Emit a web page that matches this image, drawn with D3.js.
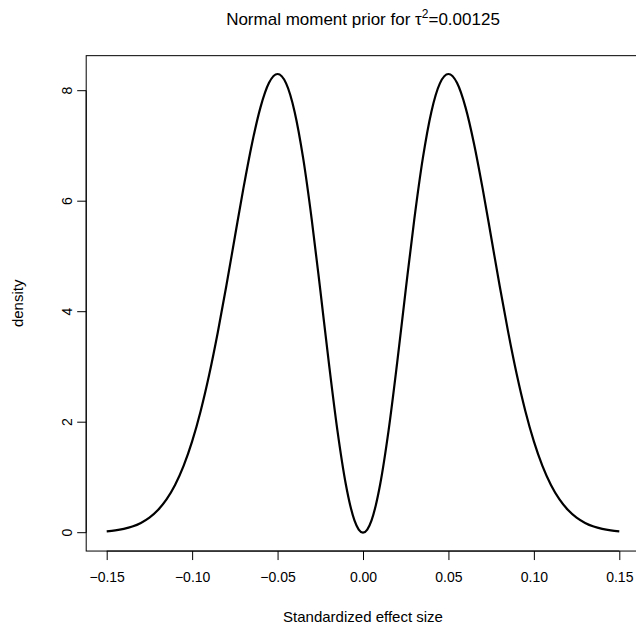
<!DOCTYPE html>
<html>
<head>
<meta charset="utf-8">
<script src="https://cdn.jsdelivr.net/npm/d3@7"></script>
<style>
	body { margin: 0; background: #fff; }
	svg text { font-family: 'Liberation Sans', Arial, Helvetica, sans-serif; fill: #000; }
</style>
</head>
<body>
<div id="chart"></div>
<script>
(() => {
	// effect size grid and density (symmetric about 0)
	const effectSize = [
		-0.150, -0.145, -0.140, -0.135, -0.130, -0.125, -0.120, -0.115, -0.110, -0.105,
		-0.100, -0.095, -0.090, -0.085, -0.080, -0.075, -0.070, -0.065, -0.060, -0.055,
		-0.050, -0.045, -0.040, -0.035, -0.030, -0.025, -0.020, -0.015, -0.010, -0.0075,
		-0.005, -0.0025, 0.000, 0.0025, 0.005,
		0.0075, 0.010, 0.015, 0.020, 0.025, 0.030, 0.035, 0.040, 0.045, 0.050,
		0.055, 0.060, 0.065, 0.070, 0.075, 0.080, 0.085, 0.090, 0.095, 0.100,
		0.105, 0.110, 0.115, 0.120, 0.125, 0.130, 0.135, 0.140, 0.145, 0.150,
	];
	const density = [
		0.025, 0.042, 0.070, 0.112, 0.177, 0.272, 0.410, 0.602, 0.864, 1.210,
		1.653, 2.204, 2.863, 3.625, 4.466, 5.352, 6.232, 7.037, 7.699, 8.143,
		8.302, 8.133, 7.616, 6.774, 5.668, 4.394, 3.077, 1.856, 0.867, 0.497,
		0.223, 0.056, 0.000, 0.056, 0.223,
		0.497, 0.867, 1.856, 3.077, 4.394, 5.668, 6.774, 7.616, 8.133, 8.302,
		8.143, 7.699, 7.037, 6.232, 5.352, 4.466, 3.625, 2.863, 2.204, 1.653,
		1.210, 0.864, 0.602, 0.410, 0.272, 0.177, 0.112, 0.070, 0.042, 0.025,
	];
	const xTicks = [-0.15, -0.10, -0.05, 0.00, 0.05, 0.10, 0.15];
	const yTicks = [0, 2, 4, 6, 8];

	const width = 636;
	const height = 630;

	const svg = d3.select('#chart').append('svg')
		.attr('width', width)
		.attr('height', height)
		.style('background', '#fff');

	// R style: data range padded by 4% on each side
	const x = d3.scaleLinear()
		.domain([-0.15, 0.15])
		.range([106.7, 619.3]);
	const y = d3.scaleLinear()
		.domain([0, 8])
		.range([532.7, 90.7]);

	const xPad = 0.04 * 0.30;
	const yMax = d3.max(density);
	const yPad = 0.04 * yMax;
	const left = x(-0.15 - xPad);
	const right = x(0.15 + xPad);
	const top = y(yMax + yPad);
	const bottom = y(-yPad);

	// the curve
	const line = d3.line()
		.x((d, i) => x(effectSize[i]))
		.y(d => y(d))
		.curve(d3.curveMonotoneX);

	svg.append('path')
		.datum(density)
		.attr('d', line)
		.style('fill', 'none')
		.style('stroke', '#000')
		.style('stroke-width', 2.2)
		.style('stroke-linejoin', 'round');

	// box
	svg.append('rect')
		.attr('x', left)
		.attr('y', top)
		.attr('width', right - left)
		.attr('height', bottom - top)
		.style('fill', 'none')
		.style('stroke', '#000')
		.style('stroke-width', 1);

	// x axis
	const xAxis = d3.axisBottom(x)
		.tickValues(xTicks)
		.tickSize(9)
		.tickPadding(12)
		.tickFormat(d3.format('.2f'));
	const xAxisG = svg.append('g')
		.attr('transform', `translate(0, ${bottom})`)
		.call(xAxis);
	xAxisG.select('.domain')
		.attr('d', `M${x(-0.15)},0H${x(0.15)}`)
		.style('stroke', '#000');
	xAxisG.selectAll('.tick line').style('stroke', '#000');
	xAxisG.selectAll('.tick text')
		.style('font-size', '14px')
		.style('font-family', "'Liberation Sans', Arial, sans-serif")
		.style('fill', '#000');

	// y axis, labels rotated like R's las = 0
	const yAxisG = svg.append('g')
		.attr('transform', `translate(${left}, 0)`);
	yAxisG.append('path')
		.attr('d', `M0,${y(0)}V${y(8)}`)
		.style('stroke', '#000')
		.style('fill', 'none');
	const yTick = yAxisG.selectAll('.ytick')
		.data(yTicks)
		.enter()
		.append('g')
		.attr('class', 'ytick')
		.attr('transform', d => `translate(0, ${y(d)})`);
	yTick.append('line')
		.attr('x1', 0)
		.attr('x2', -9)
		.style('stroke', '#000');
	yTick.append('text')
		.attr('transform', 'translate(-14, 0) rotate(-90)')
		.style('text-anchor', 'middle')
		.style('font-size', '14px')
		.text(d => d);

	// labels
	svg.append('text')
		.attr('x', (left + right) / 2)
		.attr('y', 25)
		.style('text-anchor', 'middle')
		.style('font-size', '17px')
		.html('Normal moment prior for τ<tspan dy="-7" font-size="12">2</tspan><tspan dy="7">=0.00125</tspan>');

	svg.append('text')
		.attr('x', (left + right) / 2)
		.attr('y', 622)
		.style('text-anchor', 'middle')
		.style('font-size', '15px')
		.text('Standardized effect size');

	svg.append('text')
		.attr('transform', `translate(23, ${(top + bottom) / 2}) rotate(-90)`)
		.style('text-anchor', 'middle')
		.style('font-size', '15px')
		.text('density');
})();
</script>
</body>
</html>
